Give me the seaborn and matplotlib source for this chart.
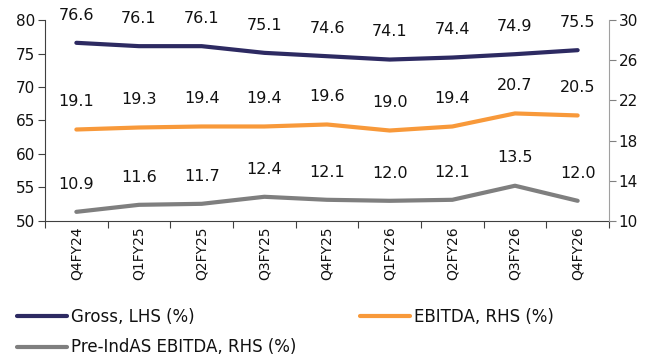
import matplotlib
matplotlib.use("Agg")
import matplotlib.pyplot as plt
import seaborn as sns
import pandas as pd
import numpy as np
from matplotlib.lines import Line2D

quarters = ["Q4FY24", "Q1FY25", "Q2FY25", "Q3FY25", "Q4FY25", "Q1FY26", "Q2FY26", "Q3FY26", "Q4FY26"]
gross = [76.6, 76.1, 76.1, 75.1, 74.6, 74.1, 74.4, 74.9, 75.5]
ebitda = [19.1, 19.3, 19.4, 19.4, 19.6, 19.0, 19.4, 20.7, 20.5]
pre_indas = [10.9, 11.6, 11.7, 12.4, 12.1, 12.0, 12.1, 13.5, 12.0]

names = ["Gross, LHS (%)", "EBITDA, RHS (%)", "Pre-IndAS EBITDA, RHS (%)"]
colors = ["#2D2A62", "#F8993A", "#7F7F7F"]

sns.set_theme(style="white")
plt.rcParams["font.family"] = ["DejaVu Sans"]
plt.rcParams["text.color"] = "#111111"
plt.rcParams["xtick.color"] = "#111111"
plt.rcParams["ytick.color"] = "#111111"

df = pd.DataFrame({"q": quarters, "x": np.arange(len(quarters)),
                   "gross": gross, "ebitda": ebitda, "pre": pre_indas})

fig = plt.figure(figsize=(6.46, 3.58), dpi=100)
ax = fig.add_axes([0.0697, 0.383, 0.873, 0.561])
ax2 = ax.twinx()

lw = 3.0
sns.lineplot(data=df, x="x", y="gross", ax=ax, color=colors[0], lw=lw)
sns.lineplot(data=df, x="x", y="ebitda", ax=ax2, color=colors[1], lw=lw)
sns.lineplot(data=df, x="x", y="pre", ax=ax2, color=colors[2], lw=lw)

for a, vals in [(ax, gross), (ax2, ebitda), (ax2, pre_indas)]:
    for i, v in enumerate(vals):
        a.annotate(f"{v:.1f}", (i, v), xytext=(0, 20), textcoords="offset points",
                   ha="center", va="center", fontsize=11.5, color="#111111")

ax.set_xlim(-0.5, len(quarters) - 0.5)
ax.set_ylim(50, 80)
ax.set_yticks(np.arange(50, 81, 5))
ax2.set_ylim(10, 30)
ax2.set_yticks(np.arange(10, 31, 4))

ax.set_xticks(np.arange(len(quarters)))
ax.set_xticklabels(quarters, rotation=90, fontsize=10)
ax.set_xticks(np.arange(-0.5, len(quarters), 1), minor=True)
ax.tick_params(axis="x", which="major", length=0, pad=4)
ax.tick_params(axis="x", which="minor", length=5, width=0.8, color="#404040", direction="out", bottom=True)
ax.tick_params(axis="y", length=5, width=0.8, color="#404040", labelcolor="#111111", labelsize=11, left=True, pad=2)
ax2.tick_params(axis="y", length=5, width=0.8, color="#808080", labelcolor="#111111", labelsize=11, right=True, pad=2)

ax.set_xlabel("")
ax.set_ylabel("")
ax2.set_ylabel("")

for a in (ax, ax2):
    a.spines["top"].set_visible(False)
    a.grid(False)
ax.spines["right"].set_visible(False)
ax.spines["left"].set_color("#404040")
ax.spines["bottom"].set_color("#404040")
ax2.spines["left"].set_visible(False)
ax2.spines["bottom"].set_visible(False)
ax2.spines["right"].set_color("#A0A0A0")
for s in ax.spines.values():
    s.set_linewidth(0.8)
ax2.spines["right"].set_linewidth(0.8)

handles = [Line2D([], [], color=colors[0], lw=lw),
           Line2D([], [], color=colors[2], lw=lw),
           Line2D([], [], color=colors[1], lw=lw)]
labels = [names[0], names[2], names[1]]
fig.legend(handles, labels, ncol=2, loc="lower left", bbox_to_anchor=(0.024, 0.0),
           frameon=False, fontsize=12, handlelength=3.0, handletextpad=0.25,
           columnspacing=3.8, labelspacing=0.75, borderaxespad=0, borderpad=0.1)

fig.savefig("out.png", dpi=100)
